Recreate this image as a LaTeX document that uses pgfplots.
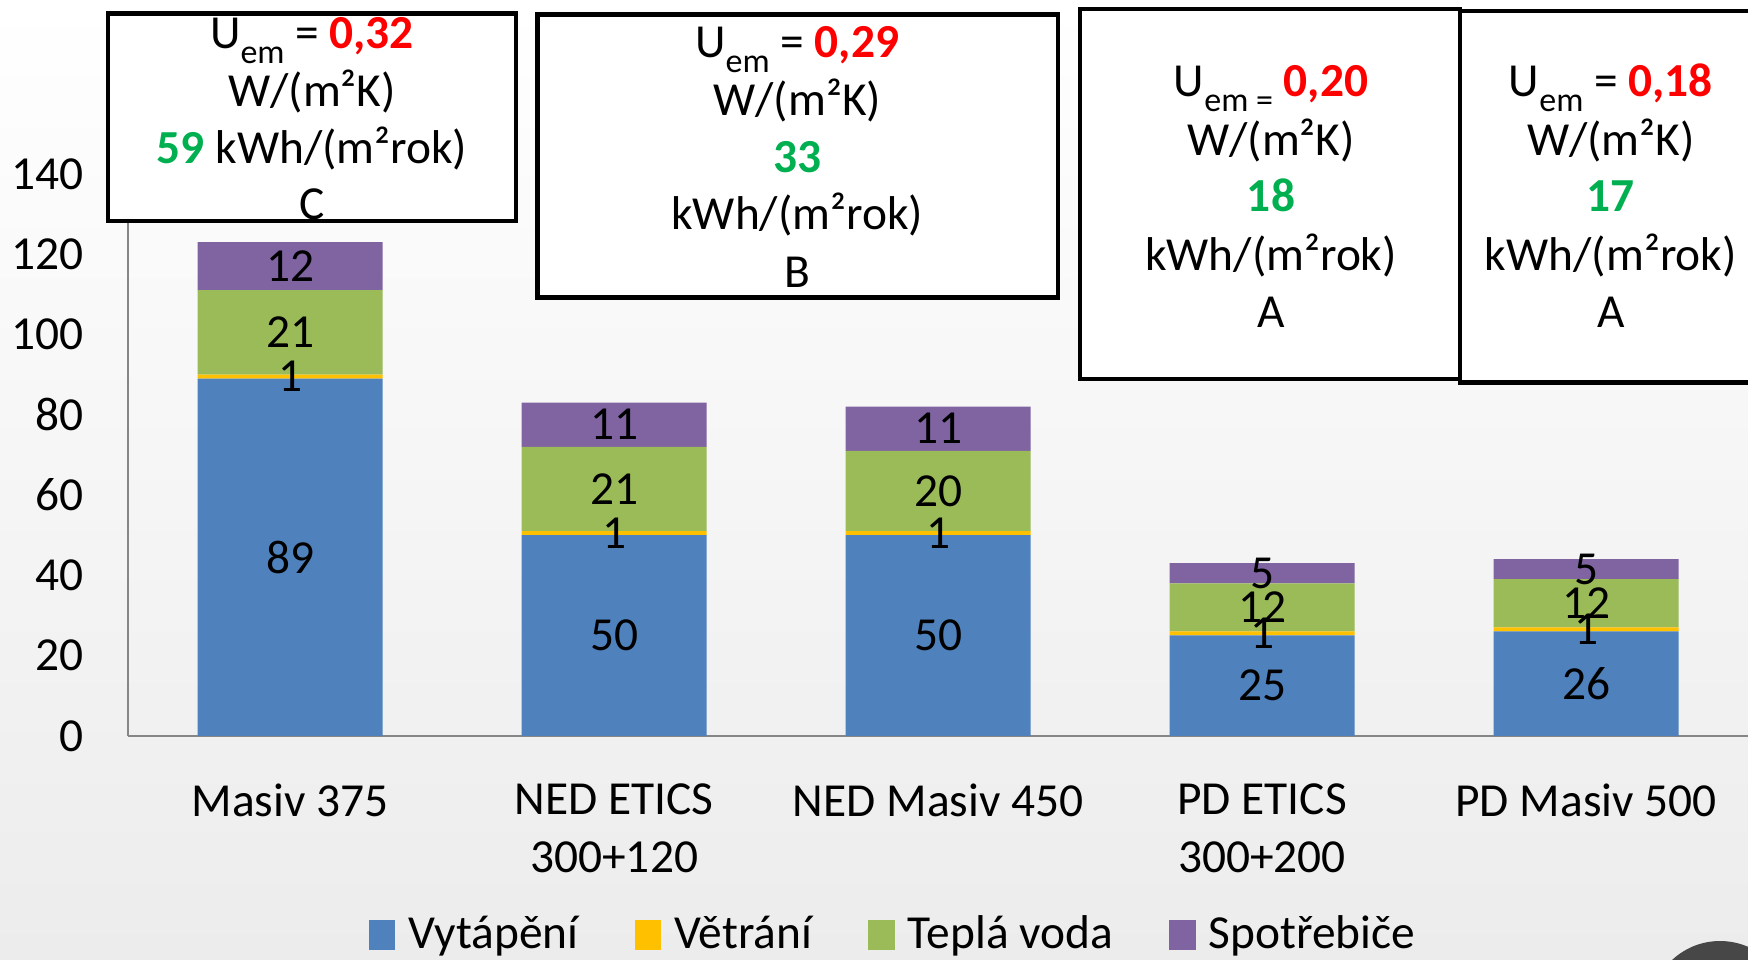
\documentclass[border=0pt]{standalone}
\usepackage{pgfplots}
\pgfplotsset{compat=1.18}
\usepackage{pgfplotstable}
\usepackage{fontspec}
\setmainfont{Carlito}
\definecolor{cVyt}{HTML}{4F81BD}
\definecolor{cVet}{HTML}{FFC000}
\definecolor{cTep}{HTML}{9BBB59}
\definecolor{cSpo}{HTML}{8064A2}
\definecolor{cRed}{HTML}{FF0000}
\definecolor{cGrn}{HTML}{00B050}
\definecolor{cAx}{HTML}{868686}
\pgfplotstableread{
x vyt vet tep spo
0 89 1 21 12
1 50 1 21 11
2 50 1 20 11
3 25 1 12 5
4 26 1 12 5
}\data
\newcommand\bigf{\fontsize{23.7pt}{29pt}\selectfont}
\newcommand\sub[1]{\raisebox{-0.32em}{\fontsize{17pt}{17pt}\selectfont #1}}
\newcommand\U[2]{U\sub{#1} = \textcolor{cRed}{\textbf{#2}}}
\newcommand\bl[3]{\node[anchor=base, inner sep=0pt, font=\bigf] at (#1pt,#2pt) {#3};}
\begin{document}
\bigf
\begin{tikzpicture}
\begin{scope}
\clip (0,0) rectangle (874pt,479.5pt);
\shade[top color=white, bottom color={rgb,255:red,236;green,236;blue,236}] (0,0) rectangle (874pt,479.5pt);
\begin{axis}[
  at={(64.1pt,111.6pt)}, anchor=south west,
  scale only axis, width=809.9pt, height=281pt,
  ybar stacked, bar width=92.5pt,
  xmin=-0.5, xmax=4.5, ymin=0, ymax=140,
  xtick={0,1,2,3,4},
  xticklabels={{Masiv 375},{NED ETICS\\300+120},{NED Masiv 450},{PD ETICS\\300+200},{PD Masiv 500}},
  ytick={0,20,...,140},
  axis x line*=bottom, axis y line*=left,
  axis line style={draw=cAx, line width=1.2pt, -},
  major tick length=0pt,
  /pgf/number format/assume math mode=true,
  tick label style={font=\bigf},
  xticklabel style={align=center, anchor=north, yshift=-16pt},
  yticklabel style={anchor=east, xshift=-14pt},
  lbl/.style={point meta=explicit, nodes near coords,
    every node near coord/.append style={anchor=center, font=\bigf, text=black}},
  legend style={at={(0.4728,-0.356)}, anchor=center, draw=none, fill=none,
    legend columns=4, font=\bigf,
    /tikz/every even column/.append style={column sep=26pt}},
  legend image code/.code={\fill[#1] (0pt,-7pt) rectangle (13.4pt,8pt); \path (17.9pt,0pt);},
]
\addplot[fill=cVyt, draw=none, lbl] table[x=x, y=vyt, meta=vyt] {\data};
\addplot[fill=cVet, draw=none, lbl] table[x=x, y=vet, meta=vet] {\data};
\addplot[fill=cTep, draw=none, lbl] table[x=x, y=tep, meta=tep] {\data};
\addplot[fill=cSpo, draw=none, lbl] table[x=x, y=spo, meta=spo] {\data};
\legend{Vytápění, Větrání, Teplá voda, Spotřebiče}
\end{axis}
% boxes
\draw[line width=2.2pt, fill=white] (54pt,369.1pt) rectangle (258pt,472.8pt);
\bl{156}{455.2}{\U{em}{0,32}}
\bl{156}{426.2}{W/(m²K)}
\bl{156}{397.8}{\textcolor{cGrn}{\textbf{59}} kWh/(m²rok)}
\bl{156}{369.9}{C}
\draw[line width=2.2pt, fill=white] (268.7pt,330.7pt) rectangle (529pt,472.3pt);
\bl{398.6}{450.7}{\U{em}{0,29}}
\bl{398.6}{421.7}{W/(m²K)}
\bl{398.6}{393.3}{\textcolor{cGrn}{\textbf{33}}}
\bl{398.6}{364.9}{kWh/(m²rok)}
\bl{398.6}{335.9}{B}
\draw[line width=2.2pt, fill=white] (540pt,290pt) rectangle (730pt,475pt);
\bl{635.5}{431.2}{U\sub{em =} \textcolor{cRed}{\textbf{0,20}}}
\bl{635.5}{401.7}{W/(m²K)}
\bl{635.5}{373.8}{\textcolor{cGrn}{\textbf{18}}}
\bl{635.5}{344.3}{kWh/(m²rok)}
\bl{635.5}{315.8}{A}
\draw[line width=2.2pt, fill=white] (730pt,288.3pt) rectangle (890pt,473.9pt);
\bl{805.4}{431.2}{\U{em}{0,18}}
\bl{805.4}{401.7}{W/(m²K)}
\bl{805.4}{373.8}{\textcolor{cGrn}{\textbf{17}}}
\bl{805.4}{344.3}{kWh/(m²rok)}
\bl{805.4}{315.8}{A}
\fill[color={rgb,255:red,71;green,71;blue,71}] (860pt,-26pt) circle (35pt);
\end{scope}
\pgfresetboundingbox
\useasboundingbox (0,0) rectangle (874pt,479.5pt);
\end{tikzpicture}
\end{document}
